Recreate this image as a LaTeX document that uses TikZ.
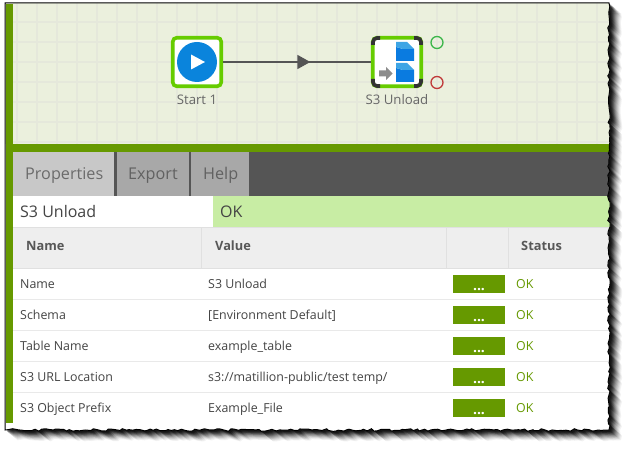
\documentclass[tikz,border=0pt]{standalone}
\usepackage{fontspec}
\setmainfont{Open Sans}
\usetikzlibrary{decorations.pathmorphing,decorations.markings,arrows.meta,calc}
\definecolor{canvasbg}{HTML}{EBF0DD}
\definecolor{gridc}{HTML}{E5E8DB}
\definecolor{barg}{HTML}{669900}
\definecolor{nodeg}{HTML}{66CC00}
\definecolor{darkband}{HTML}{555555}
\definecolor{tabon}{HTML}{C8C8C8}
\definecolor{taboff}{HTML}{A8A8A8}
\definecolor{okbg}{HTML}{C8EDA4}
\definecolor{headbg}{HTML}{EEEEEE}
\definecolor{rule}{HTML}{E0E0E0}
\definecolor{txt}{HTML}{444444}
\definecolor{blueA}{HTML}{0A84DC}
\definecolor{cubeF}{HTML}{0A7BE0}
\definecolor{cubeT}{HTML}{3EA5E5}
\definecolor{portgreen}{HTML}{3CB64A}
\definecolor{portred}{HTML}{C03A3A}
\tikzset{
  torn/.style={decoration={random steps,segment length=3.5pt,amplitude=1.3pt}},
  tablabel/.style={font=\fontsize{16.2}{18}\selectfont,text=#1,anchor=base west,inner sep=0pt},
  titlelabel/.style={font=\fontsize{16}{18}\selectfont,text=txt,anchor=base west,inner sep=0pt},
  headlabel/.style={font=\fontsize{12.8}{15}\selectfont\bfseries,text=txt!90,anchor=base west,inner sep=0pt},
  celllabel/.style={font=\fontsize{12.4}{15}\selectfont,text=txt,anchor=base west,inner sep=0pt},
  oklabel/.style={font=\fontsize{12.4}{15}\selectfont,text=barg,anchor=base west,inner sep=0pt},
  dotsbtn/.style={fill=barg,draw=none,minimum width=52pt,minimum height=18pt,inner sep=0pt},
  dotstext/.style={font=\fontsize{14}{14}\selectfont\bfseries,text=white,inner sep=0pt,anchor=base},
  compbox/.style={draw=nodeg,line width=3.6pt,fill=white,rounded corners=4pt,minimum width=48.5pt,minimum height=48.5pt,inner sep=0pt},
  complabel/.style={font=\fontsize{13.2}{15}\selectfont,text=black!60,inner sep=0pt},
  flow/.style={draw=darkband,line width=1.8pt,postaction={decorate},
    decoration={markings,mark=at position 0.59 with {\arrow[darkband]{Triangle[length=13pt,width=14pt]}}}},
  port/.style={circle,draw=#1,line width=1.3pt,fill=none,minimum size=12pt,inner sep=0pt}
}
\newcommand\tornshape[1]{\pgfmathsetseed{4242}%
  \path[torn,#1] (5,3) -- (609,3) decorate{-- (609,430) -- (5,430)} -- cycle;}
\begin{document}
\begin{tikzpicture}[x=1pt,y=-1pt]
\useasboundingbox (0,0) rectangle (630,449);
\fill[white] (0,0) rectangle (630,449);
% shadow
\foreach \d/\o in {12/.05,11/.06,10/.08,9/.1,8/.12,7/.15,6/.2,5/.25,4/.3,3/.35,2/.4}{
  \begin{scope}[xshift=\d pt,yshift=-0.85*\d pt]
    \tornshape{fill=black,fill opacity=\o}
  \end{scope}
}
\tornshape{fill=white}
\begin{scope}
  \tornshape{clip}
  % canvas
  \fill[canvasbg] (5,3) rectangle (625,144);
  \foreach \gx in {17,37,...,617}{\draw[gridc,line width=2pt] (\gx,3) -- (\gx,144);}
  \foreach \gy in {22.5,42.5,...,142.5}{\draw[gridc,line width=2pt] (13,\gy) -- (625,\gy);}
  % bars
  \fill[barg] (13,144) rectangle (625,152);
  \fill[darkband] (13,152) rectangle (625,196);
  \fill[tabon] (13,152) rectangle (114,196);
  \fill[taboff] (117,152) rectangle (189,196);
  \fill[taboff] (191,152) rectangle (249,196);
  \fill[white] (13,196) rectangle (213,227);
  \fill[okbg] (213,196) rectangle (625,227);
  \fill[headbg] (13,228) rectangle (625,268);
  \draw[rule,line width=1pt] (13,227.5) -- (625,227.5);
  \draw[rule,line width=1pt] (13,268.5) -- (625,268.5);
  \foreach \cx in {201.5,446.5,508.5}{\draw[rule,line width=1pt] (\cx,228) -- (\cx,268);}
  \foreach \ry in {299.5,330.5,361.5,392.5}{\draw[rule!70!white,line width=1pt] (13,\ry) -- (625,\ry);}
  % left bar and frame
  \fill[barg] (6,4) rectangle (13,423);
\end{scope}
\tornshape{draw=black,line width=1pt}
% tabs and titles
\node[tablabel=black!58] (tabP) at (25,179.7) {Properties};
\node[tablabel=black!62] (tabE) at (128,179.7) {Export};
\node[tablabel=black!62] (tabH) at (203,179.7) {Help};
\node[titlelabel] (ttl) at (20,217.5) {S3 Unload};
\node[titlelabel] (okt) at (220,217.5) {OK};
\node[headlabel] (hN) at (26,250.5) {Name};
\node[headlabel] (hV) at (215,250.5) {Value};
\node[headlabel] (hS) at (521,250.5) {Status};
% rows
\foreach \i/\cy/\na/\va in {
  1/284/{Name}/{S3 Unload},
  2/315/{Schema}/{[Environment Default]},
  3/346/{Table Name}/{example\_table},
  4/377/{S3 URL Location}/{s3://matillion-public/test temp/},
  5/408/{S3 Object Prefix}/{Example\_File}}{
  \node[celllabel] (n\i) at (20,\cy+5) {\na};
  \node[celllabel] (v\i) at (208,\cy+5) {\va};
  \node[dotsbtn] (b\i) at (479,\cy) {};
  \node[dotstext] (d\i) at (479,\cy+6.5) {...};
  \node[oklabel] (k\i) at (516,\cy+5) {OK};
}
% components
\node[compbox] (start) at (197,62) {};
\node[compbox] (unload) at (397,62) {};
\draw[flow] (start) -- (unload);
\node[circle,fill=blueA,minimum size=40pt,inner sep=0pt] (playc) at (197,62) {};
\fill[white] ($(playc)+(-6,-7.5)$) -- ($(playc)+(8,0)$) -- ($(playc)+(-6,7.5)$) -- cycle;
% corners of S3 box
\foreach \sx/\sy/\hx/\vy in {373/38/7/7,421/38/-7/7,421/86/-7/-7,373/86/7/-7}{
  \draw[black!80,line width=3.6pt,rounded corners=4pt] (\sx,\sy+\vy) -- (\sx,\sy) -- (\sx+\hx,\sy);
}
% cubes
\foreach \cy in {42,63}{
  \fill[cubeF] (396,\cy+5) -- (403,\cy+7) -- (414,\cy+7) -- (414,\cy+19) -- (396,\cy+19) -- cycle;
  \fill[cubeT] (396,\cy) -- (407,\cy) -- (414,\cy+7) -- (403,\cy+7) -- (396,\cy+5) -- cycle;
}
% gray arrow
\fill[black!45] (379,70.5) -- (386,70.5) -- (386,67) -- (392.5,73.5) -- (386,80) -- (386,76.5) -- (379,76.5) -- cycle;
\node[port=portgreen] (portok) at (437,42.5) {};
\node[port=portred] (portbad) at (437,82.5) {};
\node[complabel] (lstart) at (197,99.5) {Start 1};
\node[complabel] (lunload) at (397,99.5) {S3 Unload};
\end{tikzpicture}
\end{document}
